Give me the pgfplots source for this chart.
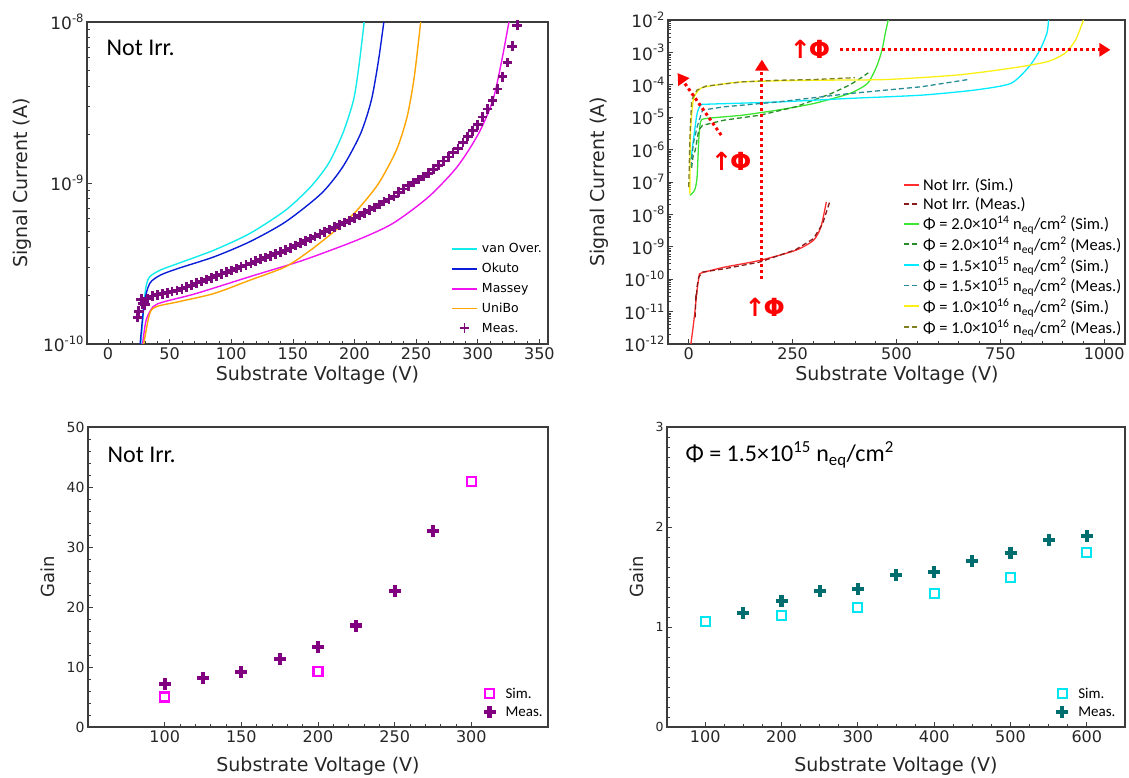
\documentclass[border=0pt]{standalone}
\usepackage{fontspec}
\setmainfont{DejaVu Sans}
\newfontfamily\calfont{Carlito}
\usepackage{pgfplots}
\pgfplotsset{compat=1.18}
\usetikzlibrary{arrows.meta}

\definecolor{cVan}{RGB}{20,235,235}
\definecolor{cOku}{RGB}{10,30,215}
\definecolor{cMas}{RGB}{240,20,240}
\definecolor{cUni}{RGB}{255,165,0}
\definecolor{cMeas}{RGB}{125,10,125}
\definecolor{cRed}{RGB}{255,45,45}
\definecolor{cDRed}{RGB}{140,25,25}
\definecolor{cGrn}{RGB}{60,230,50}
\definecolor{cDGrn}{RGB}{40,140,40}
\definecolor{cCya}{RGB}{0,235,255}
\definecolor{cTeal}{RGB}{40,140,150}
\definecolor{cYel}{RGB}{250,240,20}
\definecolor{cOli}{RGB}{128,128,32}
\definecolor{cSimM}{RGB}{255,0,255}
\definecolor{cMeasP}{RGB}{128,0,128}
\definecolor{cSimC}{RGB}{0,230,240}
\definecolor{cMeasT}{RGB}{0,110,110}
\definecolor{cAx}{RGB}{60,60,60}
\definecolor{cArr}{RGB}{255,0,0}

\newcommand{\sexp}[1]{\raisebox{0.42em}{\fontsize{11.5}{12}\selectfont #1}}

\pgfplotsset{
  myax/.style={
    scale only axis, anchor=south west,
    axis line style={line width=1.3pt, cAx},
    every tick/.style={cAx, line width=0.7pt},
    tick align=inside,
    xtick pos=left, ytick pos=left,
    major tick length=5pt, minor tick length=3pt,
    tick label style={font=\fontsize{16}{18}\selectfont, text=black!85},
    label style={font=\fontsize{19}{22}\selectfont, text=black!85},
    /pgf/number format/assume math mode=true,
    /pgf/number format/1000 sep={},
    legend cell align=left,
  },
}

\begin{document}
\begin{tikzpicture}
\path[use as bounding box] (0pt,0pt) rectangle (1129pt,778pt);

% ---------------- Panel 1 ----------------
\begin{axis}[ymode=log, myax, at={(87pt,434pt)}, width=461pt, height=322pt,
  xmin=-17, xmax=357, ymin=1e-10, ymax=1e-8,
  xtick={0,50,...,350}, minor x tick num=4,
  ytick={1e-10,1e-9,1e-8},
  yticklabels={10\sexp{-10},10\sexp{-9},10\sexp{-8}},
  yticklabel style={font=\fontsize{17}{19}\selectfont},
  xlabel={Substrate Voltage (V)}, ylabel={Signal Current (A)},
  xlabel style={at={(axis description cs:0.5,-0.096)}, anchor=center},
  ylabel style={at={(axis description cs:-0.141,0.5)}, anchor=center},
  legend style={draw=none, fill=none, font=\fontsize{12.5}{14}\selectfont,
    at={(axis description cs:0.783,0.325)}, anchor=north west, row sep=5pt,
    /tikz/every odd column/.append style={column sep=2pt}},
  legend image code/.code={\draw[mark repeat=2,mark phase=2,#1, line width=1.8pt] plot coordinates {(0pt,0pt)(12.5pt,0pt)(25pt,0pt)};},
]
\addplot[draw=cVan, line width=1.4pt, smooth, tension=0.45] coordinates {
(26.7,1e-10)(29.6,1.88e-10)(31,2.3e-10)(33.9,2.62e-10)(42.6,2.88e-10)(57.1,3.17e-10)
(86.1,3.83e-10)(115.1,4.86e-10)(144.1,6.78e-10)(164.4,9.46e-10)(178.9,1.32e-9)
(190.5,2.03e-9)(199.2,3.27e-9)(203.5,5.26e-9)(207.9,1e-8)};
\addlegendentry{van Over.}
\addplot[draw=cOku, line width=1.4pt, smooth, tension=0.45] coordinates {
(26.1,1e-10)(29.5,1.8e-10)(33.9,2.38e-10)(42.6,2.68e-10)(57.1,2.95e-10)(86.1,3.48e-10)
(115.1,4.32e-10)(144.1,5.74e-10)(173.1,8.61e-10)(190.5,1.26e-9)(205,2.03e-9)
(213.7,3.27e-9)(219.5,5.78e-9)(223.8,1e-8)};
\addlegendentry{Okuto}
\addplot[draw=cMas, line width=1.4pt, smooth, tension=0.45] coordinates {
(28.1,1e-10)(31,1.41e-10)(36.8,1.71e-10)(45.5,1.83e-10)(71.6,2.06e-10)(115.1,2.62e-10)
(158.6,3.32e-10)(202.1,4.42e-10)(231.1,5.61e-10)(260.1,8.2e-10)(283.3,1.26e-9)
(300.7,2.03e-9)(312.3,3.27e-9)(319.5,5.78e-9)(325.3,1e-8)};
\addlegendentry{Massey}
\addplot[draw=cUni, line width=1.4pt, smooth, tension=0.45] coordinates {
(29,1e-10)(33.9,1.55e-10)(39.7,1.71e-10)(57.1,1.83e-10)(86.1,2.06e-10)(115.1,2.49e-10)
(144.1,3.02e-10)(164.4,3.83e-10)(184.7,5.09e-10)(202.1,6.78e-10)(219.5,9.93e-10)
(234,1.6e-9)(242.7,2.58e-9)(248.5,4.56e-9)(253.7,1e-8)};
\addlegendentry{UniBo}
\addplot[only marks, mark=+, mark size=4.8pt, line width=2.8pt, cMeas] coordinates {
(24,1.46e-10)(25,1.6e-10)(27,1.9e-10)(28,1.78e-10)(30,1.75e-10)(32,1.91e-10)(36,1.99e-10)
(40,2.02e-10)(44,2.05e-10)(48,2.08e-10)(52,2.12e-10)(56,2.15e-10)(60,2.2e-10)(64,2.26e-10)
(68,2.32e-10)(72,2.39e-10)(76,2.45e-10)(80,2.52e-10)(84,2.58e-10)(88,2.65e-10)(92,2.72e-10)
(96,2.79e-10)(100,2.86e-10)(104,2.94e-10)(108,3.02e-10)(112,3.1e-10)(116,3.18e-10)
(120,3.27e-10)(124,3.36e-10)(128,3.44e-10)(132,3.53e-10)(136,3.63e-10)(140,3.72e-10)
(144,3.83e-10)(148,3.95e-10)(152,4.09e-10)(156,4.23e-10)(160,4.37e-10)(164,4.51e-10)
(168,4.66e-10)(172,4.82e-10)(176,4.98e-10)(180,5.14e-10)(184,5.32e-10)(188,5.5e-10)
(192,5.68e-10)(196,5.86e-10)(200,6.07e-10)(204,6.28e-10)(208,6.53e-10)(212,6.79e-10)
(216,7.06e-10)(220,7.34e-10)(224,7.66e-10)(228,7.96e-10)(232,8.28e-10)(236,8.77e-10)
(240,9.18e-10)(244,9.62e-10)(248,1.005e-9)(252,1.05e-9)(256,1.1e-9)(260,1.15e-9)
(264,1.22e-9)(268,1.29e-9)(272,1.37e-9)(276,1.45e-9)(280,1.54e-9)(284,1.63e-9)
(288,1.78e-9)(292,1.95e-9)(296,2.11e-9)(300,2.3e-9)(304,2.57e-9)(308,2.88e-9)
(312,3.24e-9)(316,3.84e-9)(320,4.57e-9)(324,5.62e-9)(328,7.08e-9)(332,9.55e-9)};
\addlegendentry{Meas.}
\node[anchor=west, font=\calfont\fontsize{24}{26}\selectfont] at (axis description cs:0.035,0.919) {Not Irr.};
\end{axis}

% ---------------- Panel 2 ----------------
\begin{axis}[ymode=log, myax, at={(668pt,434pt)}, width=457pt, height=324pt,
  xmin=-50, xmax=1050, ymin=1e-12, ymax=1e-2,
  xtick={0,250,...,1000}, minor x tick num=4,
  ytick={1e-12,1e-11,1e-10,1e-9,1e-8,1e-7,1e-6,1e-5,1e-4,1e-3,1e-2},
  yticklabels={10\sexp{-12},10\sexp{-11},10\sexp{-10},10\sexp{-9},10\sexp{-8},10\sexp{-7},10\sexp{-6},10\sexp{-5},10\sexp{-4},10\sexp{-3},10\sexp{-2}},
  yticklabel style={font=\fontsize{17}{19}\selectfont},
  xlabel={Substrate Voltage (V)}, ylabel={Signal Current (A)},
  xlabel style={at={(axis description cs:0.501,-0.096)}, anchor=center},
  ylabel style={at={(axis description cs:-0.151,0.5)}, anchor=center},
  legend style={draw=none, fill=none, font=\calfont\fontsize{16.5}{19}\selectfont,
    at={(axis description cs:0.508,0.524)}, anchor=north west, row sep=1.3pt,
    /tikz/every odd column/.append style={column sep=1pt}},
  legend image code/.code={\draw[#1, line width=1.8pt] (0pt,0pt) -- (15pt,0pt);},
]
\addplot[draw=cRed, line width=1.3pt, smooth, tension=0.4] coordinates {
(5,1e-12)(10,3e-12)(15,1.07e-11)(20,4.5e-11)(25,1.29e-10)(30,1.55e-10)(85,2.34e-10)
(171,3.8e-10)(257,7.76e-10)(300,1.58e-9)(318,4.07e-9)(331,2.4e-8)};
\addlegendentry{Not Irr. (Sim.)}
\addplot[draw=cDRed, line width=1.3pt, dash pattern=on 5pt off 3pt] coordinates {
(15.5,6.6e-12)(17,3.5e-11)(18,2.5e-11)(20,6e-11)(24,1.15e-10)(33,1.66e-10)(85,2.09e-10)
(171,3.39e-10)(257,8.1e-10)(300,1.78e-9)(322,5.1e-9)(339,2.4e-8)};
\addlegendentry{Not Irr. (Meas.)}
\addplot[draw=cGrn, line width=1.3pt, smooth, tension=0.4] coordinates {
(2.6,3.9e-8)(8,4.4e-8)(15,6e-8)(20,1.41e-7)(24,1.95e-6)(28.5,7.24e-6)(41,9.1e-6)
(128,1.15e-5)(214,1.66e-5)(300,2.63e-5)(387,5.37e-5)(430,1.1e-4)(452,3.63e-4)
(465,1.17e-3)(473,3.9e-3)(480,1e-2)};
\addlegendentry{Φ = 2.0×10\textsuperscript{14} n\textsubscript{eq}/cm\textsuperscript{2} (Sim.)}
\addplot[draw=cDGrn, line width=1.3pt, dash pattern=on 5pt off 3pt] coordinates {
(5,3e-7)(7,2.88e-7)(10,6e-7)(15.5,9.5e-7)(24,4e-6)(33,5.6e-6)(85,8.1e-6)(171,1.15e-5)
(257,2.09e-5)(343,5.37e-5)(387,9.8e-5)(413,1.58e-4)(432,2.34e-4)};
\addlegendentry{Φ = 2.0×10\textsuperscript{14} n\textsubscript{eq}/cm\textsuperscript{2} (Meas.)}
\addplot[draw=cCya, line width=1.3pt, smooth, tension=0.4] coordinates {
(3,5e-7)(6,6e-7)(11,1.95e-6)(20,1.29e-5)(28.5,2.34e-5)(41,2.51e-5)(214,2.95e-5)
(387,3.8e-5)(560,4.79e-5)(689,6.9e-5)(775,1.1e-4)(819,3.63e-4)(845,1.17e-3)
(862,3.9e-3)(866,1e-2)};
\addlegendentry{Φ = 1.5×10\textsuperscript{15} n\textsubscript{eq}/cm\textsuperscript{2} (Sim.)}
\addplot[draw=cTeal, line width=1.3pt, dash pattern=on 5pt off 3pt] coordinates {
(5,2.88e-7)(11,1.55e-6)(20,5e-6)(33,1.66e-5)(85,2.09e-5)(214,2.95e-5)(387,5.37e-5)
(560,8.7e-5)(672,1.45e-4)};
\addlegendentry{Φ = 1.5×10\textsuperscript{15} n\textsubscript{eq}/cm\textsuperscript{2} (Meas.)}
\addplot[draw=cYel, line width=1.3pt, smooth, tension=0.4] coordinates {
(2.6,4.4e-8)(4,3.2e-6)(11,3.4e-5)(24,6.9e-5)(41,8.7e-5)(128,1.23e-4)(300,1.38e-4)
(473,1.45e-4)(646,2e-4)(775,3.24e-4)(862,5.13e-4)(905,9.3e-4)(931,2.4e-3)(950,1e-2)};
\addlegendentry{Φ = 1.0×10\textsuperscript{16} n\textsubscript{eq}/cm\textsuperscript{2} (Sim.)}
\addplot[draw=cOli, line width=1.3pt, dash pattern=on 5pt off 3pt] coordinates {
(0,7e-8)(3,3.2e-6)(7,3.4e-5)(20,6.9e-5)(41,9.1e-5)(128,1.23e-4)(214,1.38e-4)
(300,1.45e-4)(400,1.66e-4)};
\addlegendentry{Φ = 1.0×10\textsuperscript{16} n\textsubscript{eq}/cm\textsuperscript{2} (Meas.)}
\draw[cArr, line width=3pt, dash pattern=on 3pt off 3pt, -{Triangle[length=11pt,width=13pt]}]
  (axis cs:176,1e-10) -- (axis cs:176,6e-4);
\draw[cArr, line width=3pt, dash pattern=on 3pt off 3pt, -{Triangle[length=11pt,width=13pt]}]
  (axis cs:364,1.2e-3) -- (axis cs:1015,1.2e-3);
\draw[cArr, line width=3pt, dash pattern=on 3pt off 3pt, -{Triangle[length=11pt,width=13pt]}]
  (axis cs:78,2.8e-6) -- (axis cs:-27,2.3e-4);
\node[text=cArr, font=\bfseries\fontsize{25}{27}\selectfont, inner sep=0pt] at (axis cs:183,1.4e-11) {↑\kern-2pt Φ};
\node[text=cArr, font=\bfseries\fontsize{25}{27}\selectfont, inner sep=0pt] at (axis cs:292,1.2e-3) {↑\kern-2pt Φ};
\node[text=cArr, font=\bfseries\fontsize{25}{27}\selectfont, inner sep=0pt] at (axis cs:102,4.2e-7) {↑\kern-2pt Φ};
\end{axis}

% ---------------- Panel 3 ----------------
\begin{axis}[myax, at={(88pt,51pt)}, width=460pt, height=300pt,
  xmin=50, xmax=350, ymin=0, ymax=50,
  xtick={100,150,...,300}, ytick={0,10,...,50},
  minor x tick num=4, minor y tick num=4,
  yticklabel style={font=\fontsize{14}{16}\selectfont},
  xlabel={Substrate Voltage (V)}, ylabel={Gain},
  xlabel style={at={(axis description cs:0.5,-0.13)}, anchor=center},
  ylabel style={at={(axis description cs:-0.087,0.5)}, anchor=center, font=\fontsize{18}{20}\selectfont},
  legend style={draw=none, fill=none, font=\calfont\fontsize{15}{17}\selectfont,
    at={(axis description cs:0.853,0.145)}, anchor=north west, row sep=3pt,
    /tikz/every odd column/.append style={column sep=8pt}},
  legend image code/.code={\draw[#1] plot coordinates {(0pt,0pt)};},
]
\addplot[only marks, mark=square*, mark size=4.5pt, line width=2.2pt, draw=cSimM, fill=white,
  mark options={draw=cSimM, fill=white}] coordinates {
(100,5.0)(200,9.2)(300,40.9)};
\addlegendentry{Sim.}
\addplot[only marks, mark=+, mark size=6pt, line width=4.2pt, cMeasP] coordinates {
(100,7.1)(125,8.1)(150,9.1)(175,11.3)(200,13.3)(225,16.9)(250,22.7)(275,32.7)};
\addlegendentry{Meas.}
\node[anchor=west, font=\calfont\fontsize{24}{26}\selectfont] at (axis description cs:0.035,0.907) {Not Irr.};
\end{axis}

% ---------------- Panel 4 ----------------
\begin{axis}[myax, at={(667pt,51pt)}, width=458pt, height=300pt,
  xmin=50, xmax=650, ymin=0, ymax=3,
  xtick={100,200,...,600}, ytick={0,1,2,3},
  minor x tick num=3, minor y tick num=9,
  yticklabel style={font=\fontsize{12.5}{14}\selectfont},
  xlabel={Substrate Voltage (V)}, ylabel={Gain},
  xlabel style={at={(axis description cs:0.5,-0.13)}, anchor=center},
  ylabel style={at={(axis description cs:-0.066,0.5)}, anchor=center, font=\fontsize{18}{20}\selectfont},
  legend style={draw=none, fill=none, font=\calfont\fontsize{15}{17}\selectfont,
    at={(axis description cs:0.843,0.145)}, anchor=north west, row sep=3pt,
    /tikz/every odd column/.append style={column sep=8pt}},
  legend image code/.code={\draw[#1] plot coordinates {(0pt,0pt)};},
]
\addplot[only marks, mark=square*, mark size=4.5pt, line width=2.2pt, draw=cSimC, fill=white,
  mark options={draw=cSimC, fill=white}] coordinates {
(100,1.057)(200,1.117)(300,1.197)(400,1.333)(500,1.497)(600,1.743)};
\addlegendentry{Sim.}
\addplot[only marks, mark=+, mark size=6pt, line width=4.2pt, cMeasT] coordinates {
(150,1.14)(200,1.263)(250,1.363)(300,1.377)(350,1.52)(400,1.55)(450,1.66)(500,1.743)
(550,1.87)(600,1.907)};
\addlegendentry{Meas.}
\node[anchor=west, font=\calfont\fontsize{24}{26}\selectfont] at (axis description cs:0.033,0.907)
  {Φ = 1.5×10\textsuperscript{15} n\textsubscript{eq}/cm\textsuperscript{2}};
\end{axis}
\end{tikzpicture}
\end{document}
